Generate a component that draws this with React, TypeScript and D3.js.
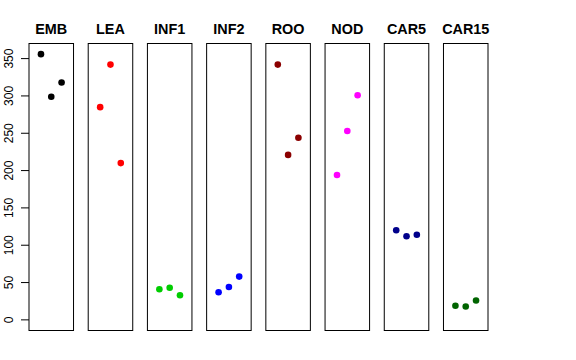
import React from "react";
import * as d3 from "d3";

const groups = ["EMB", "LEA", "INF1", "INF2", "ROO", "NOD", "CAR5", "CAR15"];
const colors = ["#000000", "#FF0000", "#00CD00", "#0000FF", "#8B0000", "#FF00FF", "#00008B", "#006400"];
const values = [
  [356, 299, 318],
  [285, 342, 210],
  [41, 43, 33],
  [37, 44, 58],
  [342, 221, 244],
  [194, 253, 301],
  [120, 112, 114],
  [19, 18, 26],
];
const yTicks = [0, 50, 100, 150, 200, 250, 300, 350];

const App = () => {
  const width = 576;
  const height = 360;
  const top = 43.5;
  const bottom = 330.5;

  const ymax = d3.max(values.flat()) as number;
  const y = d3.scaleLinear()
    .domain([-0.04 * ymax, ymax * 1.04])
    .range([bottom, top]);

  const band = d3.scaleBand<string>()
    .domain(groups)
    .range([29, 488])
    .paddingInner(0.248);

  const xIn = d3.scaleLinear()
    .domain([-0.16, 4.16])
    .range([0, band.bandwidth()]);

  const font = "'Liberation Sans', Arial, Helvetica, sans-serif";

  return (
    <svg width={width} height={height} style={{ position: "absolute", left: 0, top: 0, background: "#fff" }}>
      {groups.map((g, i) => {
        const x0 = band(g) as number;
        return (
          <g key={g}>
            <text x={x0 + band.bandwidth() / 2} y={34} textAnchor="middle"
              fontFamily={font} fontSize={14.4} fontWeight="bold">{g}</text>
            <rect x={x0} y={top} width={band.bandwidth()} height={bottom - top}
              fill="none" stroke="#000" strokeWidth={1} />
            {values[i].map((v, j) => (
              <circle key={j} cx={x0 + xIn(j + 1)} cy={y(v)} r={3.3} fill={colors[i]} />
            ))}
          </g>
        );
      })}
      <g>
        {yTicks.map(t => (
          <g key={t}>
            <line x1={21} x2={29} y1={y(t)} y2={y(t)} stroke="#000" />
            <text transform={`translate(13,${y(t)}) rotate(-90)`} textAnchor="middle"
              fontFamily={font} fontSize={12}>{t}</text>
          </g>
        ))}
      </g>
    </svg>
  );
};

export default App;
